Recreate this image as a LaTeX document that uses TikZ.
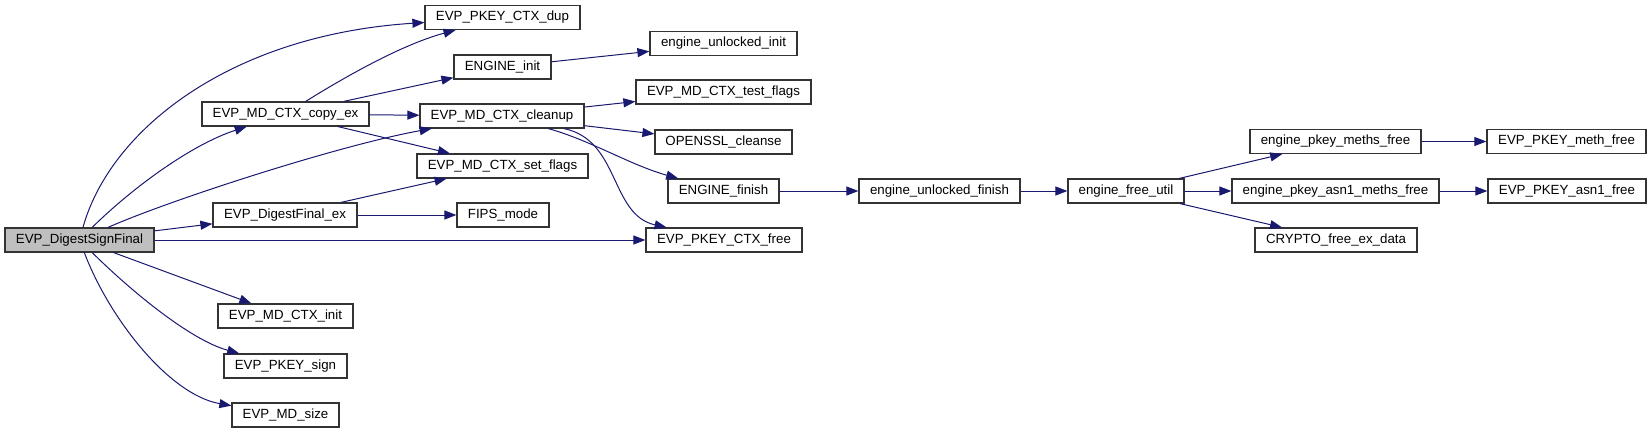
\documentclass[tikz,border=0pt]{standalone}
\usepackage{fontspec}
\setmainfont{Liberation Sans}
\usetikzlibrary{arrows.meta}
\definecolor{edgeblue}{HTML}{191970}
\definecolor{boxline}{HTML}{333333}

\begin{document}
\begin{tikzpicture}[
    x=1pt, y=-1pt,
    fn/.style={rectangle, draw=boxline, line width=1.2pt, fill=white, minimum height=24pt, inner sep=0pt, text centered, font=\fontsize{13.3}{15}\selectfont},
    root/.style={fn, fill=black!25},
    call/.style={-{Triangle[length=12pt, width=9pt]}, edgeblue, line width=1pt}
]
    \useasboundingbox (0,0) rectangle (1651,433);

    % Caller
    \node[root, minimum width=149pt] (dsf) at (79.5,240) {EVP\_DigestSignFinal};

    % First level
    \node[fn, minimum width=167pt] (copyex) at (285.5,114) {EVP\_MD\_CTX\_copy\_ex};
    \node[fn, minimum width=144pt] (dfinal) at (285,215) {EVP\_DigestFinal\_ex};
    \node[fn, minimum width=135pt] (ctxinit) at (285.5,316) {EVP\_MD\_CTX\_init};
    \node[fn, minimum width=123pt] (psign) at (285.5,366) {EVP\_PKEY\_sign};
    \node[fn, minimum width=107pt] (mdsize) at (285.5,415) {EVP\_MD\_size};

    % Second level
    \node[fn, minimum width=155pt] (ctxdup) at (502.5,17.5) {EVP\_PKEY\_CTX\_dup};
    \node[fn, minimum width=97pt] (einit) at (502.5,67) {ENGINE\_init};
    \node[fn, minimum width=164pt] (cleanup) at (502,116) {EVP\_MD\_CTX\_cleanup};
    \node[fn, minimum width=171pt] (setflags) at (502.5,166) {EVP\_MD\_CTX\_set\_flags};
    \node[fn, minimum width=92pt] (fips) at (503,215) {FIPS\_mode};

    % Third level
    \node[fn, minimum width=147pt] (uinit) at (723.5,43.5) {engine\_unlocked\_init};
    \node[fn, minimum width=175pt] (testflags) at (723.5,92) {EVP\_MD\_CTX\_test\_flags};
    \node[fn, minimum width=137pt] (cleanse) at (723.5,142) {OPENSSL\_cleanse};
    \node[fn, minimum width=111pt] (efinish) at (723.5,191) {ENGINE\_finish};
    \node[fn, minimum width=156pt] (ctxfree) at (724,240) {EVP\_PKEY\_CTX\_free};

    % Engine chain
    \node[fn, minimum width=161pt] (ufinish) at (939.5,191) {engine\_unlocked\_finish};
    \node[fn, minimum width=116pt] (freeutil) at (1126,191) {engine\_free\_util};
    \node[fn, minimum width=171pt] (pmeths) at (1335.5,141.5) {engine\_pkey\_meths\_free};
    \node[fn, minimum width=207pt] (pasn) at (1335.5,191) {engine\_pkey\_asn1\_meths\_free};
    \node[fn, minimum width=162pt] (exdata) at (1336,240) {CRYPTO\_free\_ex\_data};
    \node[fn, minimum width=159pt] (methfree) at (1566.5,141.5) {EVP\_PKEY\_meth\_free};
    \node[fn, minimum width=158pt] (asnfree) at (1567,191) {EVP\_PKEY\_asn1\_free};

    % Calls from EVP_DigestSignFinal
    \draw[call] (dsf) .. controls (110,130) and (230,35) .. (ctxdup);
    \draw[call] (dsf) .. controls (130,190) and (190,145) .. (copyex);
    \draw[call] (dsf) .. controls (170,200) and (340,145) .. (cleanup);
    \draw[call] (dsf) -- (dfinal);
    \draw[call] (dsf) -- (ctxfree);
    \draw[call] (dsf) -- (ctxinit);
    \draw[call] (dsf) .. controls (130,290) and (190,340) .. (psign);
    \draw[call] (dsf) .. controls (110,320) and (170,395) .. (mdsize);

    % Calls from the first level
    \draw[call] (copyex) .. controls (340,80) and (400,45) .. (ctxdup);
    \draw[call] (copyex) -- (einit);
    \draw[call] (copyex) -- (cleanup);
    \draw[call] (copyex) -- (setflags);
    \draw[call] (dfinal) -- (setflags);
    \draw[call] (dfinal) -- (fips);

    % Calls from the second level
    \draw[call] (einit) -- (uinit);
    \draw[call] (cleanup) -- (testflags);
    \draw[call] (cleanup) -- (cleanse);
    \draw[call] (cleanup) .. controls (590,140) and (630,165) .. (efinish);
    \draw[call] (cleanup) .. controls (620,140) and (610,215) .. (ctxfree);

    % Engine chain
    \draw[call] (efinish) -- (ufinish);
    \draw[call] (ufinish) -- (freeutil);
    \draw[call] (freeutil) -- (pmeths);
    \draw[call] (freeutil) -- (pasn);
    \draw[call] (freeutil) -- (exdata);
    \draw[call] (pmeths) -- (methfree);
    \draw[call] (pasn) -- (asnfree);

\end{tikzpicture}
\end{document}
